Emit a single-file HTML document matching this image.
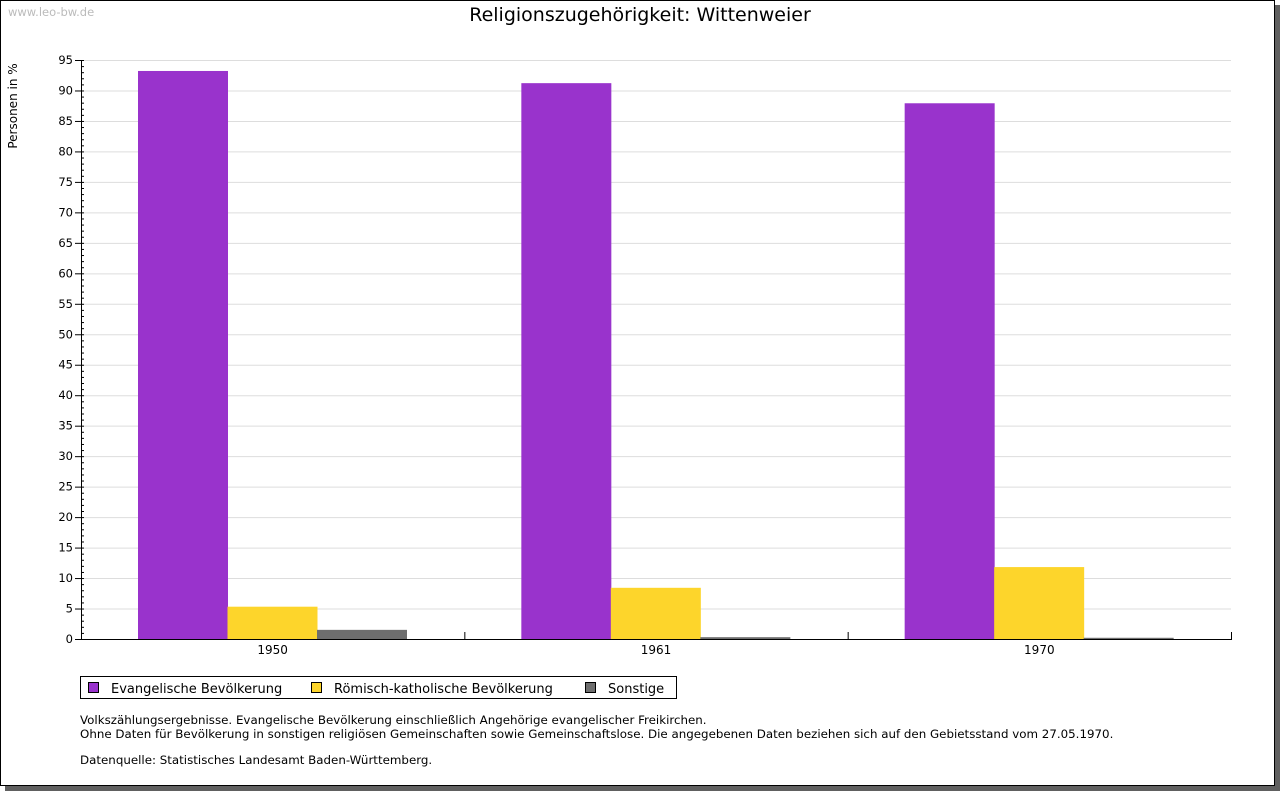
<!DOCTYPE html>
<html><head><meta charset="utf-8"><style>
html,body{margin:0;padding:0;background:#fff}
svg{display:block;font-family:"DejaVu Sans","Liberation Sans",sans-serif}
</style></head><body>
<svg id="c" width="1280" height="791" viewBox="0 0 1280 791">
<rect x="5" y="5" width="1275" height="786" fill="#606060"/>
<rect x="0.5" y="0.5" width="1274" height="785" fill="#fff" stroke="#000"/>
<text x="8" y="16" font-size="11.5" fill="#bbb">www.leo-bw.de</text>
<text x="640" y="21" font-size="19" text-anchor="middle" fill="#000">Religionszugehörigkeit: Wittenweier</text>
<text transform="translate(17,106) rotate(-90)" font-size="12" text-anchor="middle">Personen in %</text>
<g id="grid"></g><g id="bars"></g><g id="axes"></g>
<g>
<rect x="80.5" y="676.5" width="596" height="22" fill="#fff" stroke="#000"/>
<rect x="88.5" y="682.5" width="10" height="10" fill="#9933cc" stroke="#000"/>
<text x="111" y="693" font-size="13">Evangelische Bevölkerung</text>
<rect x="311.5" y="682.5" width="10" height="10" fill="#fdd52b" stroke="#000"/>
<text x="334" y="693" font-size="13">Römisch-katholische Bevölkerung</text>
<rect x="585.5" y="682.5" width="10" height="10" fill="#6e6e6e" stroke="#000"/>
<text x="608" y="693" font-size="13">Sonstige</text>
</g>
<g font-size="11.85">
<text x="80" y="724">Volkszählungsergebnisse. Evangelische Bevölkerung einschließlich Angehörige evangelischer Freikirchen.</text>
<text x="80" y="738">Ohne Daten für Bevölkerung in sonstigen religiösen Gemeinschaften sowie Gemeinschaftslose. Die angegebenen Daten beziehen sich auf den Gebietsstand vom 27.05.1970.</text>
<text x="80" y="764">Datenquelle: Statistisches Landesamt Baden-Württemberg.</text>
</g>
</svg>
<script>
const categories=["1950","1961","1970"];
const evangelisch=[93.2,91.2,87.9];
const katholisch=[5.3,8.4,11.8];
const sonstige=[1.5,0.3,0.2];
const yTicks=[0,5,10,15,20,25,30,35,40,45,50,55,60,65,70,75,80,85,90,95];
const NS="http://www.w3.org/2000/svg";
const X0=81,X1=1231,Y0=639,Y1=60,YMAX=95;
const y=v=>Y0-(v/YMAX)*(Y0-Y1);
const gw=(X1-X0)/categories.length;
function mk(p,t,a){const e=document.createElementNS(NS,t);for(const k in a)e.setAttribute(k,a[k]);p.appendChild(e);return e;}
const grid=document.getElementById('grid'),bars=document.getElementById('bars'),axes=document.getElementById('axes');
yTicks.forEach(v=>{
 const l=mk(grid,'line',{x1:X0,x2:X1,y1:y(v)+.5,y2:y(v)+.5,stroke:'#dddddd'});
 
 
 const t=mk(axes,'text',{x:73,y:y(v)+4,'font-size':11.5,'text-anchor':'end'});t.textContent=v;
 
 
 mk(axes,'line',{x1:X0-6,x2:X0,y1:y(v)+.5,y2:y(v)+.5,stroke:'#000'});
});
for(let v=0;v<=YMAX;v++){mk(axes,'line',{x1:X0,x2:X0+3,y1:y(v)+.5,y2:y(v)+.5,stroke:'#000'});}
const series=[[evangelisch,'#9933cc','evangelisch'],[katholisch,'#fdd52b','katholisch'],[sonstige,'#6e6e6e','sonstige']];
const bw=89.5,off=57;
categories.forEach((c,i)=>{
 const gx=X0+i*gw;
 series.forEach((s,j)=>{
  const v=s[0][i];
  const r=mk(bars,'rect',{x:gx+off+j*bw,y:y(v),width:bw+.5,height:Y0-y(v),fill:s[1]});
  
  
 });
 const t=mk(axes,'text',{x:gx+gw/2,y:654,'font-size':12,'text-anchor':'middle'});t.textContent=c;
 
 
 mk(axes,'line',{x1:gx+gw+.5,x2:gx+gw+.5,y1:Y0-7,y2:Y0,stroke:'#000'});
});
const ya=mk(axes,'line',{x1:X0+.5,x2:X0+.5,y1:Y1,y2:Y0+1,stroke:'#000'});


const xa=mk(axes,'line',{x1:X0,x2:X1+1,y1:Y0+.5,y2:Y0+.5,stroke:'#000'});


</script>
</body></html>
